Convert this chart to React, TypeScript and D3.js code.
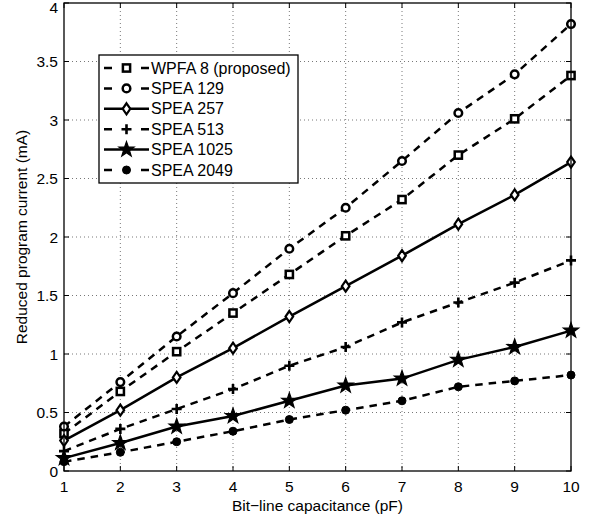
import React from "react";
import * as d3 from "d3";

const xValues = [1, 2, 3, 4, 5, 6, 7, 8, 9, 10];
const wpfa8 = [0.32, 0.68, 1.02, 1.35, 1.68, 2.01, 2.32, 2.70, 3.01, 3.38];
const spea129 = [0.38, 0.76, 1.15, 1.52, 1.90, 2.25, 2.65, 3.06, 3.39, 3.82];
const spea257 = [0.26, 0.52, 0.80, 1.05, 1.32, 1.58, 1.84, 2.11, 2.36, 2.64];
const spea513 = [0.17, 0.36, 0.53, 0.70, 0.90, 1.06, 1.27, 1.44, 1.61, 1.80];
const spea1025 = [0.11, 0.24, 0.38, 0.47, 0.60, 0.73, 0.79, 0.95, 1.06, 1.20];
const spea2049 = [0.08, 0.16, 0.25, 0.34, 0.44, 0.52, 0.60, 0.72, 0.77, 0.82];
const seriesNames = ["WPFA 8 (proposed)", "SPEA 129", "SPEA 257", "SPEA 513", "SPEA 1025", "SPEA 2049"];
const seriesValues = [wpfa8, spea129, spea257, spea513, spea1025, spea2049];
const seriesMarkers = ["square", "circle", "diamond", "plus", "star", "dot"];
const seriesDashed = [true, true, false, true, false, true];
const xTicks = [1, 2, 3, 4, 5, 6, 7, 8, 9, 10];
const yTicks = [0, 0.5, 1, 1.5, 2, 2.5, 3, 3.5, 4];

const W = 595, H = 520;
const left = 64, right = 571, top = 3, bottom = 471;
const FONT = "'Liberation Sans', Arial, Helvetica, sans-serif";

function starPath(r: number) {
  const pts: string[] = [];
  for (let i = 0; i < 10; i++) {
    const rr = i % 2 === 0 ? r : r * 0.4;
    const a = -Math.PI / 2 + (i * Math.PI) / 5;
    pts.push(`${(rr * Math.cos(a)).toFixed(2)},${(rr * Math.sin(a)).toFixed(2)}`);
  }
  return "M" + pts.join("L") + "Z";
}

function Marker({ type, x, y }: { type: string; x: number; y: number }) {
  const sw = 2.5;
  switch (type) {
    case "square":
      return <rect x={x - 3.6} y={y - 3.6} width={7.2} height={7.2} fill="white" stroke="black" strokeWidth={sw} />;
    case "circle":
      return <circle cx={x} cy={y} r={3.8} fill="white" stroke="black" strokeWidth={sw} />;
    case "diamond":
      return <path d={`M${x},${y - 5.5}L${x + 3.8},${y}L${x},${y + 5.5}L${x - 3.8},${y}Z`} fill="white" stroke="black" strokeWidth={2.2} />;
    case "plus":
      return <path d={`M${x - 5},${y}H${x + 5}M${x},${y - 5}V${y + 5}`} stroke="black" strokeWidth={2.6} />;
    case "star":
      return <path d={starPath(8)} transform={`translate(${x},${y})`} fill="black" stroke="black" strokeWidth={1.2} />;
    case "dot":
      return <circle cx={x} cy={y} r={4} fill="black" stroke="black" strokeWidth={1} />;
    default:
      return null;
  }
}

export default function App() {
  const xs = d3.scaleLinear().domain([1, 10]).range([left, right]);
  const ys = d3.scaleLinear().domain([0, 4]).range([bottom, top]);
  const line = d3
    .line<number>()
    .x((_, i) => xs(xValues[i]))
    .y((d) => ys(d));

  const legX = 99, legY = 55, legW = 199, legH = 128;
  const legRow = (i: number) => 68 + i * 20.4;

  return (
    <svg width={W} height={H} style={{ position: "absolute", left: 0, top: 0, background: "white" }} fontFamily={FONT}>
      <rect x={0} y={0} width={W} height={H} fill="white" />
      {/* grid */}
      <g stroke="#555" strokeWidth={0.8} strokeDasharray="1,3">
        {xTicks.slice(1, -1).map((t) => (
          <line key={"gx" + t} x1={xs(t)} x2={xs(t)} y1={top} y2={bottom} />
        ))}
        {yTicks.slice(1, -1).map((t) => (
          <line key={"gy" + t} x1={left} x2={right} y1={ys(t)} y2={ys(t)} />
        ))}
      </g>
      {/* ticks inward */}
      <g stroke="black" strokeWidth={1}>
        {xTicks.map((t) => (
          <g key={"tx" + t}>
            <line x1={xs(t)} x2={xs(t)} y1={bottom} y2={bottom - 5} />
            <line x1={xs(t)} x2={xs(t)} y1={top} y2={top + 5} />
          </g>
        ))}
        {yTicks.map((t) => (
          <g key={"ty" + t}>
            <line x1={left} x2={left + 5} y1={ys(t)} y2={ys(t)} />
            <line x1={right} x2={right - 5} y1={ys(t)} y2={ys(t)} />
          </g>
        ))}
      </g>
      {/* series */}
      {seriesValues.map((vals, si) => (
        <g key={"s" + si}>
          <path d={line(vals) || ""} fill="none" stroke="black" strokeWidth={2.5} strokeDasharray={seriesDashed[si] ? "7.5,6" : undefined} />
          {vals.map((v, i) => (
            <Marker key={i} type={seriesMarkers[si]} x={xs(xValues[i])} y={ys(v)} />
          ))}
        </g>
      ))}
      {/* axes box */}
      <rect x={left} y={top} width={right - left} height={bottom - top} fill="none" stroke="black" strokeWidth={1.3} />
      {/* tick labels */}
      <g fontSize={15.5} fill="black">
        {xTicks.map((t) => (
          <text key={"lx" + t} x={xs(t)} y={492} textAnchor="middle">
            {t}
          </text>
        ))}
        {yTicks.map((t) => (
          <text key={"ly" + t} x={58} y={Math.max(ys(t) + 5.5, 12.5)} textAnchor="end">
            {t}
          </text>
        ))}
      </g>
      <text x={(left + right) / 2} y={511} textAnchor="middle" fontSize={15.5}>
        Bit−line capacitance (pF)
      </text>
      <text transform={`translate(27,${(top + bottom) / 2}) rotate(-90)`} textAnchor="middle" fontSize={15.5}>
        Reduced program current (mA)
      </text>
      {/* legend */}
      <rect x={legX} y={legY} width={legW} height={legH} fill="white" stroke="black" strokeWidth={1.3} />
      {seriesNames.map((name, i) => {
        const y = legRow(i);
        return (
          <g key={"lg" + i}>
            {seriesDashed[i] ? (
              <path d={`M104,${y}H112M141,${y}H149`} stroke="black" strokeWidth={2.5} />
            ) : (
              <path d={`M104,${y}H149`} stroke="black" strokeWidth={2.5} />
            )}
            <Marker type={seriesMarkers[i]} x={126.5} y={y} />
            <text x={151} y={y + 5.5} fontSize={16}>
              {name}
            </text>
          </g>
        );
      })}
    </svg>
  );
}
